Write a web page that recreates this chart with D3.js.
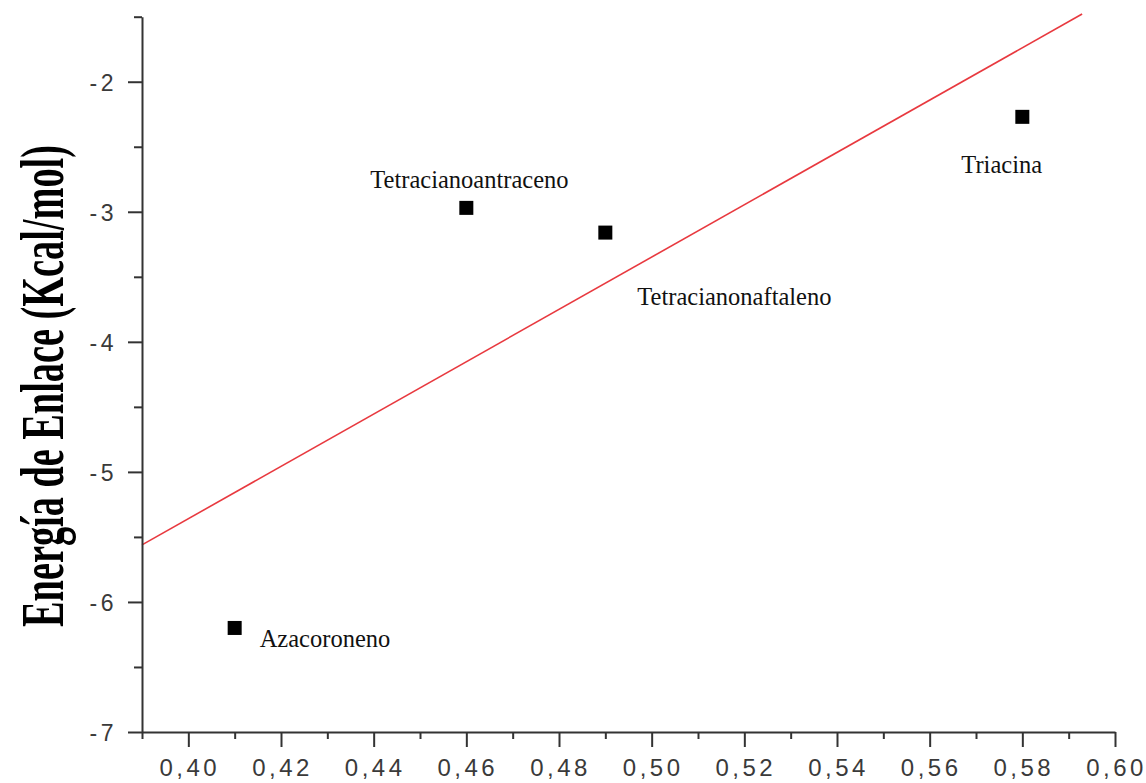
<!DOCTYPE html>
<html>
<head>
<meta charset="utf-8">
<script src="https://cdn.jsdelivr.net/npm/d3@7"></script>
<style>
  body { margin: 0; background: #ffffff; }
</style>
</head>
<body>
<svg id="chart" width="1146" height="783"></svg>
<script>
// Binding energy versus descriptor for four aromatic acceptors
const compounds = ["Azacoroneno", "Tetracianoantraceno", "Tetracianonaftaleno", "Triacina"];
const xValues   = [0.41, 0.46, 0.49, 0.58];
const energies  = [-6.20, -2.97, -3.16, -2.27];

const xTicks      = [0.40, 0.42, 0.44, 0.46, 0.48, 0.50, 0.52, 0.54, 0.56, 0.58, 0.60];
const xTickLabels = ["0,40", "0,42", "0,44", "0,46", "0,48", "0,50", "0,52", "0,54", "0,56", "0,58", "0,60"];
const xMinorTicks = [0.39, 0.41, 0.43, 0.45, 0.47, 0.49, 0.51, 0.53, 0.55, 0.57, 0.59];
const yTicks      = [-7, -6, -5, -4, -3, -2];
const yTickLabels = ["-7", "-6", "-5", "-4", "-3", "-2"];
const yMinorTicks = [-6.5, -5.5, -4.5, -3.5, -2.5, -1.5];
const yTitle = "Energía de Enlace (Kcal/mol)";

// label placement relative to each marker (pixels)
const labelOffsets = [[25, 19], [-96, -20], [32, 72], [-61, 56]];

const svg = d3.select("#chart");
const x = d3.scaleLinear().domain([0.39, 0.60]).range([142, 1115]);
const y = d3.scaleLinear().domain([-7, -1.5]).range([732, 16.7]);

const axisColor = "#333333";
const tickFont = "'Liberation Sans', Arial, sans-serif";

// ---- least-squares fit line ----
const mx = d3.mean(xValues), my = d3.mean(energies);
const sxy = d3.sum(xValues, (v, i) => (v - mx) * (energies[i] - my));
const sxx = d3.sum(xValues, v => (v - mx) * (v - mx));
const slope = sxy / sxx, intercept = my - slope * mx;
const xStart = 0.39;
const xEnd = (y.invert(14) - intercept) / slope;
svg.append("line")
  .attr("x1", x(xStart)).attr("y1", y(intercept + slope * xStart))
  .attr("x2", x(xEnd)).attr("y2", y(intercept + slope * xEnd))
  .attr("stroke", "#e8393f").attr("stroke-width", 1.6);

// ---- axes ----
const xAxis = svg.append("g").attr("transform", `translate(0,${y(-7)})`)
  .call(d3.axisBottom(x).tickValues(xTicks).tickFormat((d, i) => xTickLabels[i])
        .tickSize(15).tickSizeOuter(0).tickPadding(12));
const xMinor = svg.append("g").attr("transform", `translate(0,${y(-7)})`)
  .call(d3.axisBottom(x).tickValues(xMinorTicks).tickFormat("").tickSize(7).tickSizeOuter(0));

const yAxis = svg.append("g").attr("transform", `translate(${x(0.39)},0)`)
  .call(d3.axisLeft(y).tickValues(yTicks).tickFormat((d, i) => yTickLabels[i])
        .tickSize(14).tickSizeOuter(0).tickPadding(12));
const yMinor = svg.append("g").attr("transform", `translate(${x(0.39)},0)`)
  .call(d3.axisLeft(y).tickValues(yMinorTicks).tickFormat("").tickSize(8).tickSizeOuter(0));

[xAxis, xMinor, yAxis, yMinor].forEach(g => {
  g.select(".domain").attr("stroke", axisColor).attr("stroke-width", 2);
  g.selectAll(".tick line").attr("stroke", axisColor).attr("stroke-width", 2);
});
xMinor.select(".domain").remove();
yMinor.select(".domain").remove();

xAxis.selectAll(".tick text")
  .attr("fill", "#3a3a3a").attr("font-family", tickFont).attr("font-size", 24)
  .attr("letter-spacing", 3.5).attr("dx", 1);
yAxis.selectAll(".tick text")
  .attr("fill", "#3a3a3a").attr("font-family", tickFont).attr("font-size", 23)
  .attr("letter-spacing", 3.5).attr("dy", "0.38em").attr("dx", 1);

// ---- y axis title: condensed bold serif, squeezed along its reading direction ----
const titleSpan = 482;
const title = svg.append("text")
  .attr("text-anchor", "middle")
  .attr("font-family", "'Liberation Serif', 'Times New Roman', serif")
  .attr("font-weight", "bold").attr("font-size", 61)
  .attr("fill", "#000")
  .text(yTitle);
const natural = title.node().getComputedTextLength();
title.attr("transform", `translate(63,386) rotate(-90) scale(${titleSpan / natural},1)`);

// ---- markers ----
const size = 14;
svg.append("g").selectAll("rect").data(compounds).join("rect")
  .attr("x", (d, i) => x(xValues[i]) - size / 2)
  .attr("y", (d, i) => y(energies[i]) - size / 2)
  .attr("width", size).attr("height", size)
  .attr("fill", "#000");

// ---- compound labels ----
svg.append("g").selectAll("text").data(compounds).join("text")
  .attr("x", (d, i) => x(xValues[i]) + labelOffsets[i][0])
  .attr("y", (d, i) => y(energies[i]) + labelOffsets[i][1])
  .attr("font-family", "'Liberation Serif', 'Times New Roman', serif")
  .attr("font-size", 24.5).attr("fill", "#111")
  .text(d => d);
</script>
</body>
</html>
